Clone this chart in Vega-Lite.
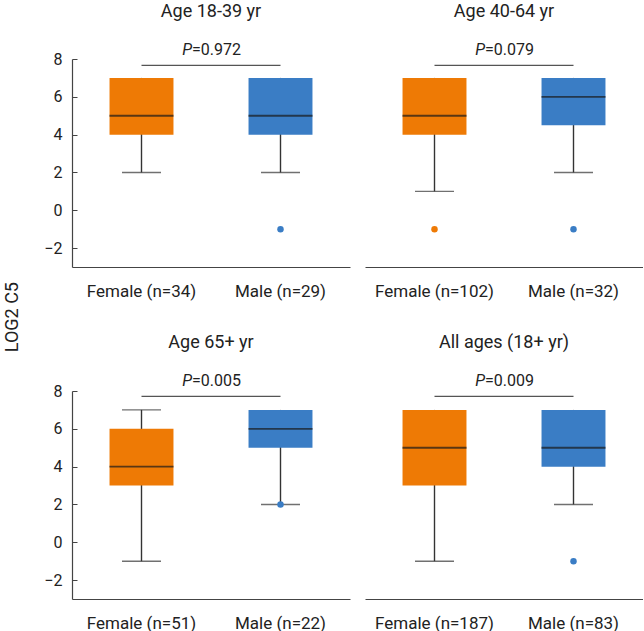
{
  "$schema": "https://vega.github.io/schema/vega-lite/v6.json",
  "padding": {"left": 3, "top": 3, "right": 0, "bottom": 0},
  "title": {"text": "LOG2 C5", "orient": "left", "anchor": "middle", "fontSize": 18, "font": "Roboto", "fontWeight": "normal", "color": "#222", "offset": 22, "frame": "bounds"},
  "data": {"values": [
    {"kind": "box", "panel": "Age 18-39 yr", "label": "Female (n=34)", "sex": "Female", "lo": 2, "q1": 4, "med": 5, "q3": 7, "hi": 7},
    {"kind": "box", "panel": "Age 18-39 yr", "label": "Male (n=29)", "sex": "Male", "lo": 2, "q1": 4, "med": 5, "q3": 7, "hi": 7},
    {"kind": "box", "panel": "Age 40-64 yr", "label": "Female (n=102)", "sex": "Female", "lo": 1, "q1": 4, "med": 5, "q3": 7, "hi": 7},
    {"kind": "box", "panel": "Age 40-64 yr", "label": "Male (n=32)", "sex": "Male", "lo": 2, "q1": 4.5, "med": 6, "q3": 7, "hi": 7},
    {"kind": "box", "panel": "Age 65+ yr", "label": "Female (n=51)", "sex": "Female", "lo": -1, "q1": 3, "med": 4, "q3": 6, "hi": 7},
    {"kind": "box", "panel": "Age 65+ yr", "label": "Male (n=22)", "sex": "Male", "lo": 2, "q1": 5, "med": 6, "q3": 7, "hi": 7},
    {"kind": "box", "panel": "All ages (18+ yr)", "label": "Female (n=187)", "sex": "Female", "lo": -1, "q1": 3, "med": 5, "q3": 7, "hi": 7},
    {"kind": "box", "panel": "All ages (18+ yr)", "label": "Male (n=83)", "sex": "Male", "lo": 2, "q1": 4, "med": 5, "q3": 7, "hi": 7},
    {"kind": "out", "panel": "Age 18-39 yr", "label": "Male (n=29)", "sex": "Male", "value": -1},
    {"kind": "out", "panel": "Age 40-64 yr", "label": "Female (n=102)", "sex": "Female", "value": -1},
    {"kind": "out", "panel": "Age 40-64 yr", "label": "Male (n=32)", "sex": "Male", "value": -1},
    {"kind": "out", "panel": "Age 65+ yr", "label": "Male (n=22)", "sex": "Male", "value": 2},
    {"kind": "out", "panel": "All ages (18+ yr)", "label": "Male (n=83)", "sex": "Male", "value": -1},
    {"kind": "p", "panel": "Age 18-39 yr", "f": "Female (n=34)", "m": "Male (n=29)", "pt": "=0.972"},
    {"kind": "p", "panel": "Age 40-64 yr", "f": "Female (n=102)", "m": "Male (n=32)", "pt": "=0.079"},
    {"kind": "p", "panel": "Age 65+ yr", "f": "Female (n=51)", "m": "Male (n=22)", "pt": "=0.005"},
    {"kind": "p", "panel": "All ages (18+ yr)", "f": "Female (n=187)", "m": "Male (n=83)", "pt": "=0.009"}
  ]},
  "spacing": 34,
  "vconcat": [
    {"spacing": 15, "hconcat": [
      {"width": 278, "height": 208, "title": "Age 18-39 yr",
       "transform": [{"filter": "datum.panel === 'Age 18-39 yr'"}],
       "layer": [
        {"transform": [{"filter": "datum.kind === 'box'"}], "mark": {"type": "rule", "color": "#333", "strokeWidth": 1.4},
         "encoding": {"x": {"field": "label", "type": "nominal", "title": null, "scale": {"paddingInner": 0, "paddingOuter": 0}},
                      "y": {"field": "lo", "type": "quantitative", "title": null, "scale": {"domain": [-3, 8], "nice": false, "zero": false}, "axis": {"values": [-2, 0, 2, 4, 6, 8]}},
                      "y2": {"field": "hi"}}},
        {"transform": [{"filter": "datum.kind === 'box'"}], "mark": {"type": "tick", "color": "#333", "size": 39, "thickness": 1.4},
         "encoding": {"x": {"field": "label", "type": "nominal", "title": null}, "y": {"field": "lo", "type": "quantitative", "title": null}}},
        {"transform": [{"filter": "datum.kind === 'box' && datum.hi > datum.q3"}], "mark": {"type": "tick", "color": "#333", "size": 39, "thickness": 1.4},
         "encoding": {"x": {"field": "label", "type": "nominal", "title": null}, "y": {"field": "hi", "type": "quantitative", "title": null}}},
        {"transform": [{"filter": "datum.kind === 'box'"}], "mark": {"type": "bar", "width": {"band": 0.46}},
         "encoding": {"x": {"field": "label", "type": "nominal", "title": null}, "y": {"field": "q1", "type": "quantitative", "title": null}, "y2": {"field": "q3"},
                      "color": {"field": "sex", "type": "nominal", "legend": null, "scale": {"domain": ["Female", "Male"], "range": ["#EE7A05", "#3A7DC5"]}}}},
        {"transform": [{"filter": "datum.kind === 'box'"}], "mark": {"type": "tick", "color": "#1a1a1a", "size": 64, "thickness": 1.8},
         "encoding": {"x": {"field": "label", "type": "nominal", "title": null}, "y": {"field": "med", "type": "quantitative", "title": null}}},
        {"transform": [{"filter": "datum.kind === 'out'"}], "mark": {"type": "circle", "size": 42, "opacity": 1},
         "encoding": {"x": {"field": "label", "type": "nominal", "title": null}, "y": {"field": "value", "type": "quantitative", "title": null},
                      "color": {"field": "sex", "type": "nominal", "legend": null}}},
        {"transform": [{"filter": "datum.kind === 'p'"}], "mark": {"type": "rule", "color": "#555", "strokeWidth": 1.2},
         "encoding": {"x": {"field": "f", "type": "nominal", "title": null}, "x2": {"field": "m"}, "y": {"datum": 7.66, "type": "quantitative", "title": null}}},
        {"transform": [{"filter": "datum.kind === 'p'"}], "mark": {"type": "text", "text": "P", "fontStyle": "italic", "align": "right", "baseline": "alphabetic", "dx": -19, "font": "Roboto", "fontSize": 16, "color": "#222"},
         "encoding": {"x": {"field": "f", "type": "nominal", "title": null, "bandPosition": 1}, "y": {"datum": 8.2, "type": "quantitative", "title": null}}},
        {"transform": [{"filter": "datum.kind === 'p'"}], "mark": {"type": "text", "align": "left", "baseline": "alphabetic", "dx": -19, "font": "Roboto", "fontSize": 16, "color": "#222"},
         "encoding": {"x": {"field": "f", "type": "nominal", "title": null, "bandPosition": 1}, "y": {"datum": 8.2, "type": "quantitative", "title": null}, "text": {"field": "pt"}}}
       ]},
      {"width": 278, "height": 208, "title": "Age 40-64 yr",
       "transform": [{"filter": "datum.panel === 'Age 40-64 yr'"}],
       "layer": [
        {"transform": [{"filter": "datum.kind === 'box'"}], "mark": {"type": "rule", "color": "#333", "strokeWidth": 1.4},
         "encoding": {"x": {"field": "label", "type": "nominal", "title": null, "scale": {"paddingInner": 0, "paddingOuter": 0}},
                      "y": {"field": "lo", "type": "quantitative", "title": null, "scale": {"domain": [-3, 8], "nice": false, "zero": false}, "axis": null},
                      "y2": {"field": "hi"}}},
        {"transform": [{"filter": "datum.kind === 'box'"}], "mark": {"type": "tick", "color": "#333", "size": 39, "thickness": 1.4},
         "encoding": {"x": {"field": "label", "type": "nominal", "title": null}, "y": {"field": "lo", "type": "quantitative", "title": null, "axis": null}}},
        {"transform": [{"filter": "datum.kind === 'box' && datum.hi > datum.q3"}], "mark": {"type": "tick", "color": "#333", "size": 39, "thickness": 1.4},
         "encoding": {"x": {"field": "label", "type": "nominal", "title": null}, "y": {"field": "hi", "type": "quantitative", "title": null, "axis": null}}},
        {"transform": [{"filter": "datum.kind === 'box'"}], "mark": {"type": "bar", "width": {"band": 0.46}},
         "encoding": {"x": {"field": "label", "type": "nominal", "title": null}, "y": {"field": "q1", "type": "quantitative", "title": null, "axis": null}, "y2": {"field": "q3"},
                      "color": {"field": "sex", "type": "nominal", "legend": null, "scale": {"domain": ["Female", "Male"], "range": ["#EE7A05", "#3A7DC5"]}}}},
        {"transform": [{"filter": "datum.kind === 'box'"}], "mark": {"type": "tick", "color": "#1a1a1a", "size": 64, "thickness": 1.8},
         "encoding": {"x": {"field": "label", "type": "nominal", "title": null}, "y": {"field": "med", "type": "quantitative", "title": null, "axis": null}}},
        {"transform": [{"filter": "datum.kind === 'out'"}], "mark": {"type": "circle", "size": 42, "opacity": 1},
         "encoding": {"x": {"field": "label", "type": "nominal", "title": null}, "y": {"field": "value", "type": "quantitative", "title": null, "axis": null},
                      "color": {"field": "sex", "type": "nominal", "legend": null}}},
        {"transform": [{"filter": "datum.kind === 'p'"}], "mark": {"type": "rule", "color": "#555", "strokeWidth": 1.2},
         "encoding": {"x": {"field": "f", "type": "nominal", "title": null}, "x2": {"field": "m"}, "y": {"datum": 7.66, "type": "quantitative", "title": null, "axis": null}}},
        {"transform": [{"filter": "datum.kind === 'p'"}], "mark": {"type": "text", "text": "P", "fontStyle": "italic", "align": "right", "baseline": "alphabetic", "dx": -19, "font": "Roboto", "fontSize": 16, "color": "#222"},
         "encoding": {"x": {"field": "f", "type": "nominal", "title": null, "bandPosition": 1}, "y": {"datum": 8.2, "type": "quantitative", "title": null, "axis": null}}},
        {"transform": [{"filter": "datum.kind === 'p'"}], "mark": {"type": "text", "align": "left", "baseline": "alphabetic", "dx": -19, "font": "Roboto", "fontSize": 16, "color": "#222"},
         "encoding": {"x": {"field": "f", "type": "nominal", "title": null, "bandPosition": 1}, "y": {"datum": 8.2, "type": "quantitative", "title": null, "axis": null}, "text": {"field": "pt"}}}
       ]}
    ]},
    {"spacing": 15, "hconcat": [
      {"width": 278, "height": 208, "title": "Age 65+ yr",
       "transform": [{"filter": "datum.panel === 'Age 65+ yr'"}],
       "layer": [
        {"transform": [{"filter": "datum.kind === 'box'"}], "mark": {"type": "rule", "color": "#333", "strokeWidth": 1.4},
         "encoding": {"x": {"field": "label", "type": "nominal", "title": null, "scale": {"paddingInner": 0, "paddingOuter": 0}},
                      "y": {"field": "lo", "type": "quantitative", "title": null, "scale": {"domain": [-3, 8], "nice": false, "zero": false}, "axis": {"values": [-2, 0, 2, 4, 6, 8]}},
                      "y2": {"field": "hi"}}},
        {"transform": [{"filter": "datum.kind === 'box'"}], "mark": {"type": "tick", "color": "#333", "size": 39, "thickness": 1.4},
         "encoding": {"x": {"field": "label", "type": "nominal", "title": null}, "y": {"field": "lo", "type": "quantitative", "title": null}}},
        {"transform": [{"filter": "datum.kind === 'box' && datum.hi > datum.q3"}], "mark": {"type": "tick", "color": "#333", "size": 39, "thickness": 1.4},
         "encoding": {"x": {"field": "label", "type": "nominal", "title": null}, "y": {"field": "hi", "type": "quantitative", "title": null}}},
        {"transform": [{"filter": "datum.kind === 'box'"}], "mark": {"type": "bar", "width": {"band": 0.46}},
         "encoding": {"x": {"field": "label", "type": "nominal", "title": null}, "y": {"field": "q1", "type": "quantitative", "title": null}, "y2": {"field": "q3"},
                      "color": {"field": "sex", "type": "nominal", "legend": null, "scale": {"domain": ["Female", "Male"], "range": ["#EE7A05", "#3A7DC5"]}}}},
        {"transform": [{"filter": "datum.kind === 'box'"}], "mark": {"type": "tick", "color": "#1a1a1a", "size": 64, "thickness": 1.8},
         "encoding": {"x": {"field": "label", "type": "nominal", "title": null}, "y": {"field": "med", "type": "quantitative", "title": null}}},
        {"transform": [{"filter": "datum.kind === 'out'"}], "mark": {"type": "circle", "size": 42, "opacity": 1},
         "encoding": {"x": {"field": "label", "type": "nominal", "title": null}, "y": {"field": "value", "type": "quantitative", "title": null},
                      "color": {"field": "sex", "type": "nominal", "legend": null}}},
        {"transform": [{"filter": "datum.kind === 'p'"}], "mark": {"type": "rule", "color": "#555", "strokeWidth": 1.2},
         "encoding": {"x": {"field": "f", "type": "nominal", "title": null}, "x2": {"field": "m"}, "y": {"datum": 7.72, "type": "quantitative", "title": null}}},
        {"transform": [{"filter": "datum.kind === 'p'"}], "mark": {"type": "text", "text": "P", "fontStyle": "italic", "align": "right", "baseline": "alphabetic", "dx": -19, "font": "Roboto", "fontSize": 16, "color": "#222"},
         "encoding": {"x": {"field": "f", "type": "nominal", "title": null, "bandPosition": 1}, "y": {"datum": 8.28, "type": "quantitative", "title": null}}},
        {"transform": [{"filter": "datum.kind === 'p'"}], "mark": {"type": "text", "align": "left", "baseline": "alphabetic", "dx": -19, "font": "Roboto", "fontSize": 16, "color": "#222"},
         "encoding": {"x": {"field": "f", "type": "nominal", "title": null, "bandPosition": 1}, "y": {"datum": 8.28, "type": "quantitative", "title": null}, "text": {"field": "pt"}}}
       ]},
      {"width": 278, "height": 208, "title": "All ages (18+ yr)",
       "transform": [{"filter": "datum.panel === 'All ages (18+ yr)'"}],
       "layer": [
        {"transform": [{"filter": "datum.kind === 'box'"}], "mark": {"type": "rule", "color": "#333", "strokeWidth": 1.4},
         "encoding": {"x": {"field": "label", "type": "nominal", "title": null, "scale": {"paddingInner": 0, "paddingOuter": 0}},
                      "y": {"field": "lo", "type": "quantitative", "title": null, "scale": {"domain": [-3, 8], "nice": false, "zero": false}, "axis": null},
                      "y2": {"field": "hi"}}},
        {"transform": [{"filter": "datum.kind === 'box'"}], "mark": {"type": "tick", "color": "#333", "size": 39, "thickness": 1.4},
         "encoding": {"x": {"field": "label", "type": "nominal", "title": null}, "y": {"field": "lo", "type": "quantitative", "title": null, "axis": null}}},
        {"transform": [{"filter": "datum.kind === 'box' && datum.hi > datum.q3"}], "mark": {"type": "tick", "color": "#333", "size": 39, "thickness": 1.4},
         "encoding": {"x": {"field": "label", "type": "nominal", "title": null}, "y": {"field": "hi", "type": "quantitative", "title": null, "axis": null}}},
        {"transform": [{"filter": "datum.kind === 'box'"}], "mark": {"type": "bar", "width": {"band": 0.46}},
         "encoding": {"x": {"field": "label", "type": "nominal", "title": null}, "y": {"field": "q1", "type": "quantitative", "title": null, "axis": null}, "y2": {"field": "q3"},
                      "color": {"field": "sex", "type": "nominal", "legend": null, "scale": {"domain": ["Female", "Male"], "range": ["#EE7A05", "#3A7DC5"]}}}},
        {"transform": [{"filter": "datum.kind === 'box'"}], "mark": {"type": "tick", "color": "#1a1a1a", "size": 64, "thickness": 1.8},
         "encoding": {"x": {"field": "label", "type": "nominal", "title": null}, "y": {"field": "med", "type": "quantitative", "title": null, "axis": null}}},
        {"transform": [{"filter": "datum.kind === 'out'"}], "mark": {"type": "circle", "size": 42, "opacity": 1},
         "encoding": {"x": {"field": "label", "type": "nominal", "title": null}, "y": {"field": "value", "type": "quantitative", "title": null, "axis": null},
                      "color": {"field": "sex", "type": "nominal", "legend": null}}},
        {"transform": [{"filter": "datum.kind === 'p'"}], "mark": {"type": "rule", "color": "#555", "strokeWidth": 1.2},
         "encoding": {"x": {"field": "f", "type": "nominal", "title": null}, "x2": {"field": "m"}, "y": {"datum": 7.72, "type": "quantitative", "title": null, "axis": null}}},
        {"transform": [{"filter": "datum.kind === 'p'"}], "mark": {"type": "text", "text": "P", "fontStyle": "italic", "align": "right", "baseline": "alphabetic", "dx": -19, "font": "Roboto", "fontSize": 16, "color": "#222"},
         "encoding": {"x": {"field": "f", "type": "nominal", "title": null, "bandPosition": 1}, "y": {"datum": 8.28, "type": "quantitative", "title": null, "axis": null}}},
        {"transform": [{"filter": "datum.kind === 'p'"}], "mark": {"type": "text", "align": "left", "baseline": "alphabetic", "dx": -19, "font": "Roboto", "fontSize": 16, "color": "#222"},
         "encoding": {"x": {"field": "f", "type": "nominal", "title": null, "bandPosition": 1}, "y": {"datum": 8.28, "type": "quantitative", "title": null, "axis": null}, "text": {"field": "pt"}}}
       ]}
    ]}
  ],
  "config": {
    "view": {"stroke": null},
    "title": {"font": "Roboto", "fontSize": 18, "fontWeight": "normal", "color": "#222", "offset": 21, "frame": "group", "anchor": "middle"},
    "axis": {"grid": false, "labelFont": "Roboto", "labelColor": "#222", "domainColor": "#444", "tickColor": "#444", "domainWidth": 1.2},
    "axisX": {"ticks": false, "labelFontSize": 17, "labelPadding": 16, "labelAngle": 0},
    "axisY": {"labelFontSize": 16, "tickSize": -5, "labelPadding": 15}
  }
}
